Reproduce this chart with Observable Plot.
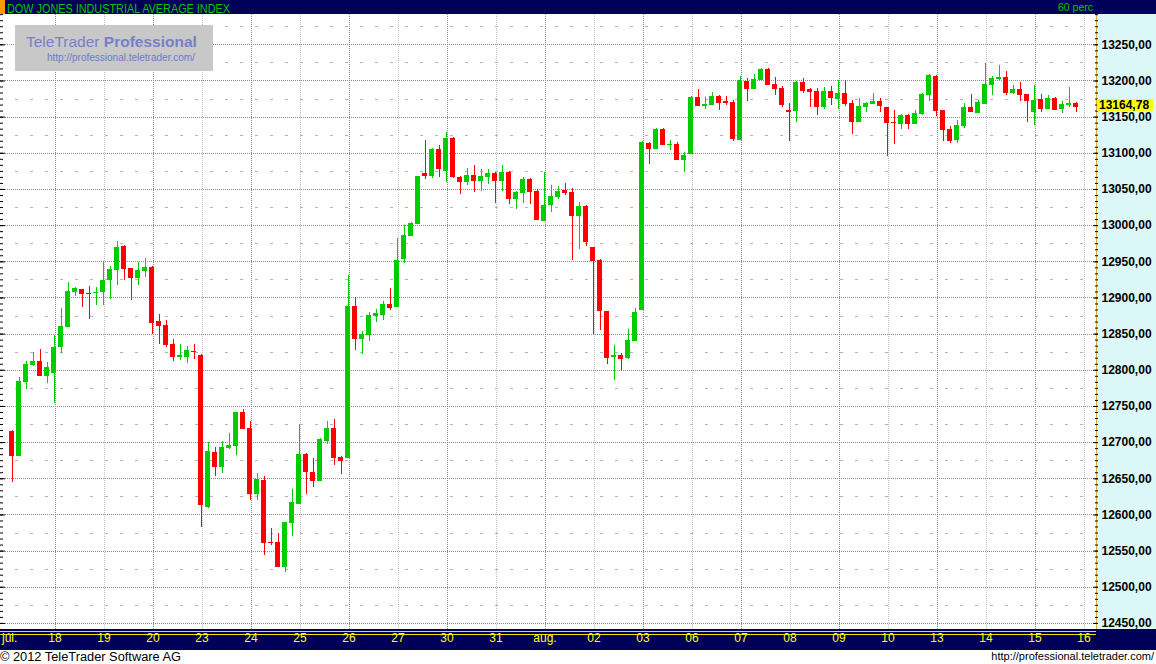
<!DOCTYPE html>
<html>
<head>
<meta charset="utf-8">
<script src="https://cdn.jsdelivr.net/npm/d3@7"></script>
<script src="https://cdn.jsdelivr.net/npm/@observablehq/plot@0.6"></script>
<style>
  html, body { margin: 0; padding: 0; background: #fff; }
  #wrap { position: relative; width: 1156px; height: 664px; overflow: hidden; background: #fff;
          font-family: Arial, "Liberation Sans", sans-serif; }
  #hdr { position: absolute; left: 0; top: 0; }
  #panel { position: absolute; left: 1096px; top: 14px; width: 59px; height: 615px;
           background: #dcf7f7; border-left: 1px solid #d8b030; }
  #band { position: absolute; left: 0; top: 629px; width: 1156px; height: 21px; background: #000058; }
  .yl { position: absolute; left: 0; height: 1px; width: 1096px; background: #e8e800; }
  #chart { position: absolute; left: 0; top: 14px; }
  #wm { position: absolute; left: 0; top: 0; }
  #price { position: absolute; left: 1097px; width: 56px; height: 12px; background: #ffff00;
           font: bold 12px Arial, "Liberation Sans", sans-serif; line-height: 12px; color: #000;
           padding-left: 2px; box-sizing: border-box; }
  #foot { position: absolute; left: 0; top: 650px; }
</style>
</head>
<body>
<div id="wrap">
  <svg id="hdr" width="1156" height="14">
    <rect x="0" y="0" width="1156" height="14" fill="#000058"></rect>
    <rect x="0" y="0" width="5" height="14" fill="#ff9900"></rect>
    <text x="7" y="12.5" font-family="Arial, 'Liberation Sans', sans-serif" font-size="13" fill="#00c800"
          textLength="223" lengthAdjust="spacingAndGlyphs">DOW JONES INDUSTRIAL AVERAGE INDEX</text>
    <text x="1058" y="11" font-family="Arial, 'Liberation Sans', sans-serif" font-size="11" fill="#00c800"
          textLength="35" lengthAdjust="spacingAndGlyphs">60 perc</text>
  </svg>
  <div id="panel"></div>
  <div id="band">
    <div class="yl" style="top:2px"></div>
    <div class="yl" style="top:5px"></div>
  </div>
  <div id="chart"></div>
  <svg id="wm" width="230" height="80">
    <rect x="15" y="25" width="198" height="46" fill="#c8c8c8"></rect>
    <text x="26" y="46.5" font-family="Arial, 'Liberation Sans', sans-serif" font-size="15.5" fill="#7880c4">TeleTrader <tspan font-weight="bold">Professional</tspan></text>
    <text x="47" y="61" font-family="Arial, 'Liberation Sans', sans-serif" font-size="10" fill="#6b78d0">http://professional.teletrader.com/</text>
  </svg>
  <div id="price"></div>
  <svg id="foot" width="1156" height="14">
    <text x="0" y="10.5" font-family="Arial, 'Liberation Sans', sans-serif" font-size="12.5" fill="#000"
          textLength="181" lengthAdjust="spacingAndGlyphs">© 2012 TeleTrader Software AG</text>
    <text x="1154" y="10" text-anchor="end" font-family="Arial, 'Liberation Sans', sans-serif" font-size="11" fill="#000">http://professional.teletrader.com/</text>
  </svg>
</div>
<script>
// ---- data: DJIA hourly (60 perc) candles, 17 Jul – 15 Aug 2012 ----
const dayLabels = ["júl.","18","19","20","23","24","25","26","27","30","31","aug.","02","03","06","07","08","09","10","13","14","15","16"];
const barsPerDay = 7;
const firstSlot = 1; // first hourly bar of 17 July lies before the chart

const opens = [
  12715,12682,12784,12808,12812,12793,
  12797,12833,12861,12909,12912,12906.5,12907,
  12909,12926,12939,12971,12941,12928,12938,
  12942,12867,12862,12836,12819.5,12819,12826.5,
  12821,12612,12686,12667,12693,12696,12742,
  12720,12630,12648,12562.5,12562,12529,12590,
  12616,12684,12659,12648,12703,12720,12679,
  12679,12888,12844,12850,12876,12877,12891,
  12888,12955,12986,13003,13072,13069,13105,
  13076,13120,13066.5,13061,13069,13062,13068,
  13072,13062,13073,13037,13046,13064,13047,
  13007,13029,13040,13048.5,13046,13014,13026,
  12970,12952,12881,12819.5,12820,12818,12841,
  12884,13114,13107,13133,13111.5,13112,13091,
  13100,13177,13166,13167.5,13178.5,13171.5,13170,
  13119,13199,13190,13202,13216,13195,13190,
  13159.2,13159,13198,13188,13185,13165,13185,
  13176,13183,13169,13144,13165,13169,13172,
  13163,13143,13141,13152,13141,13155,13181,
  13206,13159,13133,13119,13138,13163,13156,
  13169,13195,13203.8,13205,13184,13188,13181,
  13158,13174,13162,13176,13162,13167.5,13168.8
];
const highs = [
  12717,12790,12812,12825,12829,12811,
  12848,12885,12921,12914,12912,12916,12914,
  12950,12944,12978,12973,12941,12949,12955,
  12944,12877,12869,12843,12836,12833,12836,
  12822,12700,12693,12702,12713,12742,12746,
  12729,12657,12653,12581,12574,12590,12635,
  12725,12685,12678,12706,12729,12732,12681,
  12931,12901,12854,12880,12884,12895,12913,
  12982,13000,13004,13068,13118,13107,13111,
  13129,13122,13068,13079,13083,13078,13078,
  13073,13083,13075,13047,13066,13065,13050,
  13073,13055,13054,13058,13051,13032,13028,
  12970,12953,12881,12834,12823,12856,12885,
  13116,13115,13134,13134,13118,13115,13101,
  13179,13188,13177,13184,13180,13178.5,13173,
  13206,13203,13209,13217,13217,13205,13192,
  13169,13199,13203,13190,13190,13191,13192,
  13201,13201,13173,13176,13170,13183,13176,
  13163,13159,13154,13154,13159,13183,13209,
  13207,13159,13137,13145,13169,13181,13173,
  13224,13206,13221,13213,13194,13198,13181,
  13194,13181,13180,13177,13172,13191,13170
];
const lows = [
  12645,12681,12773,12805,12791,12782,
  12754,12823,12860,12902,12887,12870,12890,
  12890,12898,12917,12924,12896,12917,12928,
  12849,12836,12832,12812,12814,12809,12815,
  12583,12609,12653,12657,12690,12682,12718,
  12620,12620,12544,12558,12528,12520,12570,
  12615,12628,12638,12647,12697,12668,12656,
  12678,12827,12822,12840,12866,12869,12883,
  12887,12947,12985,13001,13064,13065,13066,
  13060,13065,13043,13055,13046,13047,13057,
  13030,13047,13029,13022,13030,13029,13007,
  13007,13018,13036,13042,12952,12967,12971,
  12850,12855,12808,12786,12800,12815,12840,
  12882,13085,13106,13111,13104,13090,13073,
  13099,13166,13160,13166,13159,13166,13116,
  13119,13172,13188,13202,13194,13180,13163,
  13116,13143,13183,13163,13152,13160,13166,
  13160,13165,13126,13143,13156,13167.5,13156,
  13096,13112,13133,13133,13141,13152,13172,
  13151,13116,13113.5,13113.5,13134,13156,13155,
  13168,13180,13200.6,13180,13181,13172,13143,
  13138,13156,13160.5,13159,13155,13163,13156
];
const closes = [
  12682,12784,12808,12812,12793,12804,
  12831,12861,12909,12913,12906,12905.5,12908,
  12924,12939,12970,12941,12928,12938,12942,
  12866,12862,12836,12819,12820.5,12827,12825.5,
  12614,12688,12667,12693,12696,12742,12720,
  12630,12649,12562,12561.5,12529,12590,12617,
  12684,12660,12648,12704,12720,12679,12675,
  12888,12844,12850,12876,12878,12891,12887,
  12952,12986,13003,13068,13069,13105,13079,
  13120,13068,13061,13069,13062,13068,13072,
  13062,13073,13037,13046,13064,13047,13008,
  13028,13040,13047,13046,13014,13026,12978,
  12952,12883,12818,12820.5,12816,12841,12880,
  13115,13107,13133,13112,13112.5,13091,13097,
  13177,13166,13167.5,13178.5,13170,13170.5,13120.5,
  13200.6,13190,13202,13216,13195,13190,13167.5,
  13158.2,13198,13187,13185,13165,13185,13177,
  13183,13169,13144,13165,13169,13172,13166,
  13143,13142,13152,13141,13155,13181,13207.5,
  13159,13133,13118,13138,13163,13158,13170,
  13195,13203,13204.5,13184,13188,13181,13173,
  13173,13162,13176,13160.5,13167.5,13168.5,13164.78
];
const yTickValues = d3.range(12450, 13251, 50);
const yHalfLevels = d3.range(12475, 13290, 50);
const yMinorTicks = d3.range(0, 108).map(i => 12400 + i * 50 / 6);

const upColor = "#00cc00", downColor = "#ff0000";

const candles = opens.map((o, i) => ({
  slot: firstSlot + i, open: o, high: highs[i], low: lows[i], close: closes[i],
  color: closes[i] >= o ? upColor : downColor
}));
const days = dayLabels.map((label, d) => ({slot: d * barsPerDay, label, d}));
const lastClose = closes[closes.length - 1];

// layout
const W = 1156, H = 637, ML = 5, MR = 64, MB = 22;
const slotPx = 7, slot0Px = 4.5, halfBody = 2.5 / slotPx;
const fmt = v => d3.format(".2f")(v).replace(".", ",");

const chart = Plot.plot({
  width: W, height: H,
  marginTop: 0, marginBottom: MB, marginLeft: ML, marginRight: MR,
  style: {background: "transparent", fontFamily: "Arial, 'Liberation Sans', sans-serif", color: "#000"},
  x: {type: "linear", domain: [(ML - slot0Px) / slotPx, (W - MR - slot0Px) / slotPx], axis: null},
  y: {type: "linear", domain: [12441.6, 13291.9]},
  marks: [
    Plot.ruleY(yHalfLevels, {stroke: "#b4b4b4", strokeDasharray: "3,12", strokeDashoffset: -10, shapeRendering: "crispEdges"}),
    Plot.ruleY(yTickValues, {stroke: "#8a8a8a", strokeDasharray: "1,1", shapeRendering: "crispEdges"}),
    Plot.ruleX(days.filter(d => d.d % 2 === 1), {x: "slot", dx: 1, stroke: "#8a8a8a", strokeDasharray: "1,1", shapeRendering: "crispEdges"}),
    Plot.ruleX(days.filter(d => d.d % 2 === 0 && d.d > 0), {x: "slot", dx: 1, stroke: "#c2c2c2", strokeDasharray: "1,1", shapeRendering: "crispEdges"}),
    Plot.ruleX(candles, {x: "slot", y1: "low", y2: "high", stroke: "color", shapeRendering: "crispEdges"}),
    Plot.rect(candles, {x1: d => d.slot - halfBody, x2: d => d.slot + halfBody, y1: "open", y2: "close", fill: "color", shapeRendering: "crispEdges"}),
    Plot.ruleY(candles, {x1: d => d.slot - halfBody, x2: d => d.slot + halfBody, y: "open", stroke: "color", shapeRendering: "crispEdges"}),
    Plot.ruleY(candles, {x1: d => d.slot - halfBody, x2: d => d.slot + halfBody, y: "close", stroke: "color", shapeRendering: "crispEdges"}),
    // right axis
    Plot.axisY(yTickValues, {anchor: "right", tickSize: 5, tickPadding: 4, tickFormat: fmt, fontSize: 12, fontWeight: "bold", fill: "#000", label: null}),
    Plot.axisY(yMinorTicks, {anchor: "right", tickSize: 3, dx: 2, tickFormat: () => "", label: null}),
    // left ticks
    Plot.axisY(yTickValues, {anchor: "left", tickSize: 5, tickFormat: () => "", label: null}),
    Plot.axisY(yMinorTicks, {anchor: "left", tickSize: 3, dx: -2, tickFormat: () => "", label: null}),
    // day labels
    Plot.text(days.slice(0, 1), {x: "slot", text: "label", frameAnchor: "bottom", dy: 12, dx: -3, textAnchor: "start", fill: "#ffff00", fontSize: 12}),
    Plot.text(days.slice(1), {x: "slot", text: "label", frameAnchor: "bottom", dy: 12, dx: 1, fill: "#ffff00", fontSize: 12})
  ]
});
document.getElementById("chart").appendChild(chart);

const yPos = chart.scale("y").apply(lastClose);
const price = document.getElementById("price");
price.textContent = fmt(lastClose);
price.style.top = (14 + yPos - 7) + "px";
</script>
</body>
</html>
